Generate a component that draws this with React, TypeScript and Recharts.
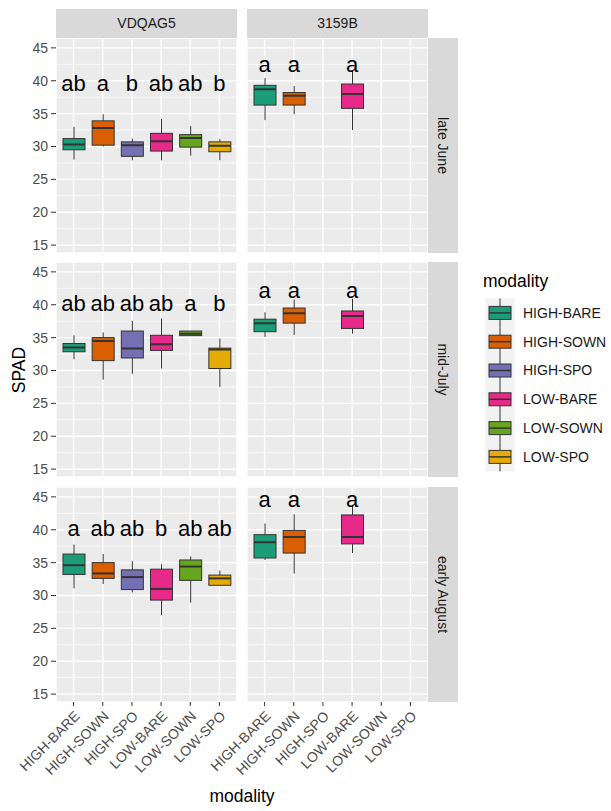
import React from 'react';
import { ComposedChart, Bar, Scatter, XAxis, YAxis, CartesianGrid } from 'recharts';

// categories, facets, colours
const modalities = ['HIGH-BARE', 'HIGH-SOWN', 'HIGH-SPO', 'LOW-BARE', 'LOW-SOWN', 'LOW-SPO'];
const sites = ['VDQAG5', '3159B'];
const periods = ['late June', 'mid-July', 'early August'];
const palette = ['#1B9E77', '#D95F02', '#7570B3', '#E7298A', '#66A61E', '#E6AB02'];
const yTicks = [15, 20, 25, 30, 35, 40, 45];
const yMinor = [17.5, 22.5, 27.5, 32.5, 37.5, 42.5];

// five-number summaries: [lower whisker, Q1, median, Q3, upper whisker]
type Five = [number, number, number, number, number] | null;

const juneVdq: Five[] = [
  [28.0, 29.5, 30.3, 31.2, 33.0],
  [30.0, 30.2, 32.8, 33.9, 34.9],
  [27.9, 28.5, 30.2, 30.7, 31.2],
  [27.9, 29.3, 30.8, 32.0, 34.2],
  [28.6, 29.9, 31.3, 31.8, 33.1],
  [27.9, 29.2, 30.1, 30.7, 31.1],
];
const june3159: Five[] = [
  [34.0, 36.3, 38.7, 39.3, 40.4],
  [34.9, 36.3, 37.7, 38.2, 39.2],
  null,
  [32.5, 35.8, 38.0, 39.5, 41.5],
  null,
  null,
];
const julyVdq: Five[] = [
  [31.7, 32.85, 33.5, 34.1, 35.35],
  [28.6, 31.5, 34.5, 35.0, 35.8],
  [29.5, 31.9, 33.35, 36.0, 37.55],
  [30.3, 33.05, 34.0, 35.35, 37.9],
  [35.3, 35.3, 35.6, 36.0, 36.0],
  [27.5, 30.3, 33.2, 33.4, 34.85],
];
const july3159: Five[] = [
  [35.1, 35.9, 37.2, 37.8, 38.85],
  [35.4, 37.2, 38.7, 39.5, 40.8],
  null,
  [35.6, 36.4, 38.3, 39.05, 40.9],
  null,
  null,
];
const augVdq: Five[] = [
  [31.1, 33.2, 34.6, 36.3, 37.75],
  [31.75, 32.6, 33.35, 35.0, 36.3],
  [30.45, 30.9, 32.8, 33.9, 35.2],
  [27.0, 29.3, 31.0, 34.0, 34.75],
  [28.9, 32.3, 34.4, 35.4, 35.95],
  [31.5, 31.55, 32.6, 33.1, 33.8],
];
const aug3159: Five[] = [
  [35.4, 35.7, 38.1, 39.25, 40.95],
  [33.35, 36.45, 38.9, 39.9, 42.35],
  null,
  [36.45, 37.85, 38.9, 42.25, 43.8],
  null,
  null,
];

// significance letters and the height they are written at
const juneVdqLetters = ['ab', 'a', 'b', 'ab', 'ab', 'b'];
const june3159Letters = ['a', 'a', '', 'a', '', ''];
const julyVdqLetters = ['ab', 'ab', 'ab', 'ab', 'a', 'b'];
const july3159Letters = ['a', 'a', '', 'a', '', ''];
const augVdqLetters = ['a', 'ab', 'ab', 'b', 'ab', 'ab'];
const aug3159Letters = ['a', 'a', '', 'a', '', ''];
const letterHeights = [
  [40, 42.8],
  [40.5, 42.6],
  [40.6, 45],
];

const panels: { stats: Five[]; letters: string[] }[][] = [
  [{ stats: juneVdq, letters: juneVdqLetters }, { stats: june3159, letters: june3159Letters }],
  [{ stats: julyVdq, letters: julyVdqLetters }, { stats: july3159, letters: july3159Letters }],
  [{ stats: augVdq, letters: augVdqLetters }, { stats: aug3159, letters: aug3159Letters }],
];

const FONT = '"Liberation Sans", Arial, sans-serif';
const PANEL_W = 181;
const PANEL_H = 215;
const colLeft = [56, 247];
const rowTop = [38, 262, 487];
const Y_AXIS_W = 56;
const X_AXIS_H = 95;

const BoxShape = (props: any) => {
  const { x, y, width, height, payload } = props;
  if (!payload || !payload.range) return null;
  const [lo, hi] = payload.range;
  const top = Math.min(y, y + height);
  const h = Math.abs(height);
  const px = (v: number) => top + (h * (hi - v)) / (hi - lo);
  const cx = x + width / 2;
  const q3 = px(payload.q3);
  const q1 = px(payload.q1);
  const md = px(payload.med);
  return (
    <g>
      <line x1={cx} x2={cx} y1={top} y2={top + h} stroke="#333" strokeWidth={1} />
      <rect x={x} y={q3} width={width} height={Math.max(q1 - q3, 0.5)} fill={payload.color} stroke="#333" strokeWidth={1} />
      <line x1={x} x2={x + width} y1={md} y2={md} stroke="#333" strokeWidth={2} />
    </g>
  );
};

const LetterShape = (props: any) => {
  const { cx, cy, payload } = props;
  if (!payload || !payload.letter) return null;
  return (
    <text x={cx} y={cy + 10} textAnchor="middle" fontSize={22} fill="#000" fontFamily={FONT}>
      {payload.letter}
    </text>
  );
};

const XTick = (props: any) => {
  const { x, y, payload } = props;
  return (
    <text
      transform={`translate(${x + 7},${y + 9}) rotate(-45)`}
      textAnchor="end"
      fontSize={14}
      fill="#4D4D4D"
      fontFamily={FONT}
    >
      {payload.value}
    </text>
  );
};

function Panel({ row, col }: { row: number; col: number }) {
  const { stats, letters } = panels[row][col];
  const data = modalities.map((m, i) => {
    const s = stats[i];
    return {
      modality: m,
      color: palette[i],
      range: s ? [s[0], s[4]] : null,
      q1: s ? s[1] : null,
      med: s ? s[2] : null,
      q3: s ? s[3] : null,
      ly: letters[i] ? letterHeights[row][col] : null,
      letter: letters[i],
    };
  });
  const left = col === 0;
  const bottom = row === 2;
  // every panel keeps room on its left so rotated tick labels are not clipped
  const width = PANEL_W + Y_AXIS_W;
  const height = PANEL_H + (bottom ? X_AXIS_H : 0);
  return (
    <div style={{ position: 'absolute', left: colLeft[col] - Y_AXIS_W, top: rowTop[row], width, height }}>
      <ComposedChart
        width={width}
        height={height}
        data={data}
        margin={{ top: 0, right: 0, bottom: 0, left: left ? 0 : Y_AXIS_W }}
      >
        <CartesianGrid fill="#EBEBEB" stroke="#FFFFFF" strokeWidth={1.4} />
        <CartesianGrid stroke="#FFFFFF" strokeWidth={0.7} vertical={false} horizontalValues={yMinor} />
        <XAxis
          dataKey="modality"
          type="category"
          hide={!bottom}
          height={X_AXIS_H}
          padding={{ left: 3, right: 3 }}
          axisLine={false}
          tickLine={{ stroke: '#333' }}
          tickSize={4}
          tickMargin={2}
          interval={0}
          tick={<XTick />}
        />
        <YAxis
          type="number"
          domain={[13.8, 46.5]}
          ticks={yTicks}
          interval={0}
          hide={!left}
          width={Y_AXIS_W}
          axisLine={false}
          tickLine={{ stroke: '#333' }}
          tickSize={5}
          tickMargin={3}
          tick={{ fill: '#4D4D4D', fontSize: 14, fontFamily: FONT }}
          allowDataOverflow
        />
        <Bar dataKey="range" barSize={22} shape={<BoxShape />} isAnimationActive={false} />
        <Scatter dataKey="ly" shape={<LetterShape />} isAnimationActive={false} />
      </ComposedChart>
    </div>
  );
}

export default function App() {
  const legendTop = 298.5;
  const keyH = 28.8;
  return (
    <div style={{ position: 'absolute', left: 0, top: 0, width: 611, height: 811, background: '#fff', fontFamily: FONT }}>
      <svg width={611} height={811} style={{ position: 'absolute', left: 0, top: 0 }}>
        {sites.map((s, c) => (
          <g key={s}>
            <rect x={colLeft[c]} y={9} width={PANEL_W} height={29} fill="#D9D9D9" />
            <text x={colLeft[c] + PANEL_W / 2} y={23.5} dy="0.35em" textAnchor="middle" fontSize={14} fill="#1A1A1A">
              {s}
            </text>
          </g>
        ))}
        {periods.map((p, r) => (
          <g key={p}>
            <rect x={428} y={rowTop[r]} width={30} height={PANEL_H} fill="#D9D9D9" />
            <text
              transform={`translate(443,${rowTop[r] + PANEL_H / 2}) rotate(90)`}
              dy="0.35em"
              textAnchor="middle"
              fontSize={14}
              fill="#1A1A1A"
            >
              {p}
            </text>
          </g>
        ))}
        <text transform="translate(19,370) rotate(-90)" dy="0.35em" textAnchor="middle" fontSize={17.5} fill="#000">
          SPAD
        </text>
        <text x={242} y={802} textAnchor="middle" fontSize={17.5} fill="#000">
          modality
        </text>
        <text x={483} y={287} fontSize={17.5} fill="#000">
          modality
        </text>
        <rect x={485.5} y={legendTop} width={29} height={keyH * modalities.length} fill="#F2F2F2" />
        {modalities.map((m, i) => {
          const cy = legendTop + keyH * (i + 0.5);
          return (
            <g key={m}>
              <line x1={500} x2={500} y1={cy - keyH / 2} y2={cy + keyH / 2} stroke="#333" strokeWidth={1} />
              <rect x={489} y={cy - 6.5} width={22} height={13} fill={palette[i]} stroke="#333" strokeWidth={1} />
              <line x1={489} x2={511} y1={cy} y2={cy} stroke="#333" strokeWidth={1.5} />
              <text x={523} y={cy} dy="0.35em" fontSize={14} fill="#1A1A1A">
                {m}
              </text>
            </g>
          );
        })}
      </svg>
      {[0, 1, 2].map((r) => [0, 1].map((c) => <Panel key={`${r}-${c}`} row={r} col={c} />))}
    </div>
  );
}
